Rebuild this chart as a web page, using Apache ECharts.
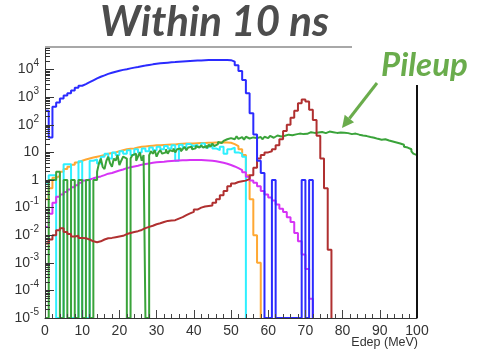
<!DOCTYPE html>
<html><head><meta charset="utf-8">
<script src="https://cdn.jsdelivr.net/npm/echarts@6/dist/echarts.min.js"></script>
<style>html,body{margin:0;padding:0;background:#fff}#c{width:491px;height:352px}</style>
</head><body><div id="c"></div>
<script>
// Values per bin (left edges at i*binWidth). 0 = empty bin.
const binWidth = 1;
const pileupBinWidth = 0.5;
const signalBlue = [320,35,450,650,900,1150,1400,1750,2200,2600,
3000,3500,4100,4800,5500,6200,7000,7700,8400,9100,
9800,10400,11100,11800,12500,13300,14000,14800,15500,16200,
16900,17400,17900,18400,18800,19300,19700,20100,20500,20900,
21300,21600,21900,22200,22400,22500,22500,22500,22400,22000,
19500,14500,9000,4200,1400,260,45,5,1.8,0,
0,1,0,0,0,0,0,0,0,1,
0,1];
const orange = [0.2,0.5,1.2,1.4,2.0,2.5,3.0,3.6,4.3,5.0,
5.5,6.0,6.5,7.0,7.5,8.0,9.0,9.5,10,11,
12,13,13.5,14,15,16,16.5,17,17.5,18,
18,18.5,19,19.5,19.5,20,20.5,21,21,21,
21.5,22,22,22.5,22.5,23,23,23.5,23,22.5,
20,17,13,8,1.5,0.2,0.01,0.001];
const cyan = [0.8,1.5,1.5,0,0,3.7,3.7,0,0,4.8,
0,0,5,5.5,4,7,9,6,10,8,
11,9,12,8,13,10,14,11,15,12,
16,13,17,14,18,5,19,15,20,17,
19,16,21,15,19,14,12,16,9,13,
15,10,9,7];
const magenta = [0.02,0.06,0.15,0.25,0.3,0.37,0.45,0.55,0.65,0.8,
0.95,1.05,1.15,1.25,1.35,1.5,1.7,1.8,2.0,2.2,
2.4,2.7,2.9,3.1,3.3,3.6,3.8,4.0,4.2,4.4,
4.5,4.6,4.8,4.9,5.0,5.1,5.2,5.2,5.3,5.3,
5.3,5.3,5.2,5.1,5.0,4.8,4.5,4.2,3.9,3.5,
3.1,2.7,2.3,1.9,1.3,0.95,0.8,0.6,0.4,0.3,
0.23,0.18,0.13,0.09,0.07,0.045,0.03,0.012,0.006,0.002,
0.0006,0.00005];
const brown = [0.005,0.007,0.01,0.015,0.018,0.013,0.011,0.009,0.0095,0.008,
0.0078,0.007,0.006,0.0056,0.006,0.007,0.0078,0.008,0.0085,0.009,
0.0095,0.011,0.012,0.013,0.014,0.0155,0.018,0.02,0.022,0.025,
0.027,0.03,0.033,0.034,0.035,0.04,0.045,0.053,0.062,0.07,
0.085,0.1,0.11,0.115,0.12,0.15,0.2,0.28,0.4,0.6,
0.75,0.85,0.9,0.95,1.1,1.5,2.8,6,8,10,
11,13,18,30,60,100,180,320,600,830,
700,350,150,40,6,0.5,0.003];
// pileup in 0.5 MeV bins
const pileup = [0,0,1,1,1,1,2,2,0,0,1,1,0,0,1,1,0,0,1,1,0,0,1,1,0,0,1,1,
2,4,6,3,2.5,5,7,4,3,6,5,8,3.5,5,7,6,
0,0,
6,8,9,5,7,10,5,8,
0,0,
8,11,9,12,7,10,12,9,10,13,9,12,11,14,10,13,14,11,13,16,12,15,16,13,14,17,15,13,18,15,17,14,19,16,21,17,20,24,22,19,26,30,27,33,
36,30,34,38,31,36,33,29,37,32,30,35,38,33,31,36,34,30,37,33,
36,40,34,39,41,37,38,43,40,36,44,40,42,47,45,41,48,44,46,50,
47,52,54,49,51,56,53,48,55,51,50,56,57,52,54,58,51,55,53,49,
52,47,50,54,46,50,48,43,44,40,41,37,39,43,36,40,34,38,31,35,
29,32,30,26,27,24,25,22,23,20,21,24,19,16,15,17,13,11,9,8];
const xTicks = [0,10,20,30,40,50,60,70,80,90,100];
const yMin = 1e-5, yMax = 66000;
const tickMultipliers = [1,2,3,4,5,6,7,8,9];
const decades = [-5,-4,-3,-2,-1,0,1,2,3,4];

function hist(vals, bw){
  const pts = [];
  for (let i = 0; i < vals.length; i++) pts.push([i*bw, vals[i] > 0 ? vals[i] : yMin]);
  const n = vals.length;
  pts.push([n*bw, vals[n-1] > 0 ? vals[n-1] : yMin]);
  pts.push([n*bw, yMin]);
  return pts;
}
function s(name, vals, color, bw, w){
  return {name, type:'line', step:'end', data:hist(vals, bw), symbol:'none', clip:true,
    yAxisIndex:0, lineStyle:{color, width:w||2}, animation:false};
}
// ROOT-style log ticks (1..9 x 10^d)
const allTickVals = [];
decades.forEach(d => tickMultipliers.forEach(m => { const v = m*Math.pow(10, d); if (v < yMax) allTickVals.push(v); }));
const majorTickVals = decades.map(d => Math.pow(10, d));

const chart = echarts.init(document.getElementById('c'));
const green = '#6aac4c';
chart.setOption({
  backgroundColor:'#fff',
  animation:false,
  title:[
    {text:'Within 10 ns', left:95, top:-4, textStyle:{fontFamily:'Lato', fontStyle:'italic', fontWeight:'bold', fontSize:42, color:'#4d4d4d'}},
    {text:'Pileup', left:376, top:44, textStyle:{fontFamily:'Lato', fontStyle:'italic', fontWeight:'bold', fontSize:33, color:green}}
  ],
  grid:{left:45, right:74, top:47, bottom:34, containLabel:false, outerBoundsMode:'none'},
  xAxis:{type:'value', min:0, max:100, interval:10, z:10,
    axisLine:{show:true, onZero:false, lineStyle:{color:'#333', width:1}},
    axisTick:{show:true, inside:true, length:8, lineStyle:{color:'#444'}},
    minorTick:{show:true, splitNumber:5, length:4, lineStyle:{color:'#444'}},
    splitLine:{show:false},
    axisLabel:{fontFamily:'Liberation Sans', fontSize:14, color:'#333', margin:6,
      formatter:v => xTicks.indexOf(v) >= 0 ? String(v) : ''}
  },
  yAxis:[{type:'log', min:yMin, max:yMax, position:'left', z:10,
    splitLine:{show:true, lineStyle:{opacity:0}},
    axisLine:{show:true, lineStyle:{color:'#333', width:1}},
    axisTick:{show:true, inside:true, length:5, customValues:allTickVals, lineStyle:{color:'#333'}},
    axisLabel:{margin:6, showMaxLabel:false, color:'#333', fontFamily:'Liberation Sans', fontSize:14,
      formatter:function(v){
        const e = Math.log10(v); const r = Math.round(e);
        if (Math.abs(e-r) > 1e-6) return '';
        if (r === 0) return '{b|1}';
        if (r === 1) return '{b|10}';
        return '{b|10}{sup|' + r + '}';
      },
      rich:{
        b:{fontFamily:'Liberation Sans', fontSize:14, color:'#333', lineHeight:22, verticalAlign:'middle'},
        sup:{fontFamily:'Liberation Sans', fontSize:10, color:'#333', lineHeight:10, verticalAlign:'top'}
      }
    }
  },{type:'log', min:yMin, max:yMax, position:'left', offset:0, z:11,
    splitLine:{show:true, lineStyle:{opacity:0}},
    axisLine:{show:true, lineStyle:{color:'#333', width:1, opacity:0}},
    axisLabel:{show:false},
    axisTick:{show:true, inside:true, length:9, customValues:majorTickVals, lineStyle:{color:'#333'}}
  }],
  series:[
    s('orange', orange, '#ffa833', binWidth),
    s('cyan', cyan, '#2ef0ff', binWidth),
    s('magenta', magenta, '#d633f5', binWidth),
    s('pileup', pileup, '#3aa33a', pileupBinWidth),
    s('brown', brown, '#b03030', binWidth),
    s('signal', signalBlue, '#2b2bff', binWidth)
  ],
  graphic:[
    {type:'line', z:100, shape:{x1:45, y1:47, x2:352, y2:47}, style:{stroke:'#a8a8a8', lineWidth:2}},
    {type:'line', z:100, shape:{x1:417, y1:85, x2:417, y2:318}, style:{stroke:'#111', lineWidth:2}},
    {type:'line', z:100, shape:{x1:377, y1:83, x2:349.4, y2:118.5}, style:{stroke:green, lineWidth:3}},
    {type:'polygon', z:100, shape:{points:[[342,128],[354.1,122.2],[344.7,114.8]]}, style:{fill:green}},
    {type:'text', z:100, right:73, top:336, style:{text:'Edep (MeV)', fontFamily:'Liberation Sans', fontSize:12.5, fill:'#333'}}
  ]
});
</script></body></html>
